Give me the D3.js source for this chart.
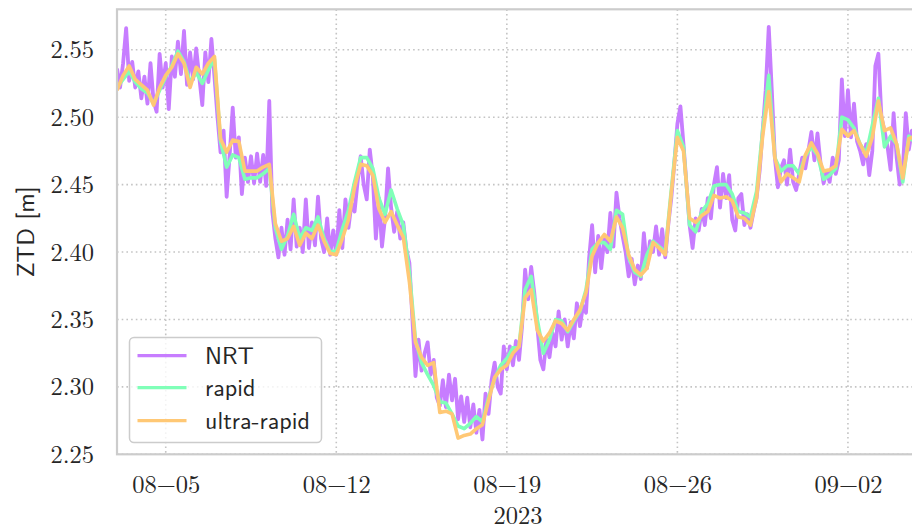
<!DOCTYPE html>
<html>
<head>
<meta charset="utf-8">
<script src="https://cdn.jsdelivr.net/npm/d3@7"></script>
<style>
  html, body { margin: 0; padding: 0; background: #ffffff; }
  svg { display: block; }
  .serif-label { font-family: "Latin Modern Roman", "LM Roman 10", "Liberation Serif", serif; }
  .sans-label { font-family: "Latin Modern Sans", "LM Sans 10", "Liberation Sans", sans-serif; }
</style>
</head>
<body>
<svg id="chart" width="912" height="528"></svg>
<script>
// Zenith total delay, three processing streams, Aug–Sep 2023 (UTC)
const seriesStart = Date.UTC(2023, 7, 3, 0, 0);
const nrtStepHours = 3;
const finalStepHours = 6;

// NRT solution, one value every 3 h
const nrtZtd = [
  2.536, 2.522, 2.540, 2.566, 2.527, 2.541, 2.522, 2.534, 2.514, 2.530,
  2.510, 2.540, 2.512, 2.504, 2.547, 2.522, 2.540, 2.506, 2.545, 2.530,
  2.556, 2.532, 2.564, 2.524, 2.548, 2.528, 2.551, 2.530, 2.509, 2.548,
  2.526, 2.558, 2.530, 2.500, 2.474, 2.490, 2.441, 2.472, 2.507, 2.470,
  2.485, 2.443, 2.470, 2.452, 2.471, 2.451, 2.473, 2.452, 2.472, 2.449,
  2.512, 2.430, 2.410, 2.396, 2.418, 2.398, 2.424, 2.402, 2.439, 2.404,
  2.418, 2.400, 2.439, 2.403, 2.422, 2.405, 2.441, 2.410, 2.400, 2.425,
  2.398, 2.416, 2.398, 2.431, 2.403, 2.439, 2.418, 2.436, 2.430, 2.452,
  2.471, 2.450, 2.439, 2.476, 2.456, 2.410, 2.440, 2.404, 2.425, 2.462,
  2.433, 2.415, 2.430, 2.410, 2.422, 2.402, 2.392, 2.350, 2.308, 2.335,
  2.312, 2.325, 2.333, 2.309, 2.320, 2.292, 2.286, 2.305, 2.285, 2.309,
  2.290, 2.306, 2.276, 2.293, 2.274, 2.292, 2.270, 2.287, 2.266, 2.283,
  2.261, 2.295, 2.280, 2.305, 2.318, 2.300, 2.295, 2.330, 2.313, 2.330,
  2.316, 2.334, 2.320, 2.345, 2.387, 2.365, 2.389, 2.370, 2.345, 2.320,
  2.313, 2.335, 2.322, 2.340, 2.330, 2.356, 2.335, 2.350, 2.330, 2.348,
  2.336, 2.362, 2.345, 2.360, 2.355, 2.395, 2.420, 2.385, 2.412, 2.388,
  2.410, 2.400, 2.429, 2.404, 2.444, 2.425, 2.412, 2.400, 2.382, 2.395,
  2.376, 2.390, 2.380, 2.414, 2.388, 2.408, 2.400, 2.419, 2.398, 2.417,
  2.396, 2.420, 2.440, 2.466, 2.495, 2.508, 2.480, 2.450, 2.420, 2.403,
  2.425, 2.416, 2.432, 2.420, 2.440, 2.425, 2.450, 2.463, 2.433, 2.458,
  2.440, 2.457, 2.424, 2.416, 2.440, 2.443, 2.420, 2.428, 2.418, 2.430,
  2.440, 2.460, 2.490, 2.520, 2.567, 2.520, 2.470, 2.448, 2.462, 2.468,
  2.450, 2.476, 2.452, 2.446, 2.458, 2.470, 2.462, 2.475, 2.489, 2.468,
  2.488, 2.466, 2.451, 2.460, 2.452, 2.470, 2.458, 2.468, 2.528, 2.486,
  2.520, 2.485, 2.510, 2.482, 2.475, 2.465, 2.480, 2.457, 2.475, 2.538,
  2.547, 2.500, 2.490, 2.478, 2.461, 2.503, 2.470, 2.450, 2.460, 2.503,
  2.476, 2.490, 2.480
];

// rapid solution, one value every 6 h
const rapidZtd = [
  2.522, 2.528, 2.534, 2.526, 2.521, 2.518, 2.510, 2.520, 2.530, 2.538,
  2.549, 2.541, 2.526, 2.533, 2.525, 2.535, 2.543, 2.482, 2.463, 2.472,
  2.470, 2.454, 2.455, 2.455, 2.458, 2.462, 2.418, 2.402, 2.412, 2.428,
  2.410, 2.418, 2.416, 2.426, 2.410, 2.400, 2.401, 2.417, 2.431, 2.452,
  2.470, 2.470, 2.462, 2.440, 2.428, 2.446, 2.432, 2.420, 2.385, 2.335,
  2.318, 2.309, 2.301, 2.289, 2.288, 2.280, 2.271, 2.269, 2.273, 2.278,
  2.274, 2.292, 2.306, 2.316, 2.321, 2.329, 2.330, 2.372, 2.382, 2.350,
  2.325, 2.335, 2.350, 2.349, 2.341, 2.349, 2.356, 2.372, 2.402, 2.407,
  2.407, 2.402, 2.431, 2.428, 2.396, 2.385, 2.382, 2.398, 2.408, 2.404,
  2.400, 2.446, 2.490, 2.478, 2.420, 2.415, 2.430, 2.436, 2.449, 2.450,
  2.450, 2.443, 2.430, 2.429, 2.426, 2.445, 2.490, 2.531, 2.470, 2.460,
  2.464, 2.464, 2.458, 2.471, 2.478, 2.472, 2.454, 2.457, 2.462, 2.500,
  2.498, 2.492, 2.480, 2.473, 2.494, 2.514, 2.478, 2.486, 2.480, 2.452,
  2.486, 2.481
];

// ultra-rapid solution, one value every 6 h
const ultraRapidZtd = [
  2.520, 2.531, 2.538, 2.528, 2.524, 2.520, 2.509, 2.522, 2.531, 2.537,
  2.547, 2.540, 2.522, 2.537, 2.532, 2.540, 2.545, 2.484, 2.474, 2.483,
  2.482, 2.460, 2.460, 2.460, 2.463, 2.465, 2.421, 2.408, 2.410, 2.419,
  2.405, 2.414, 2.410, 2.420, 2.408, 2.399, 2.398, 2.410, 2.424, 2.448,
  2.465, 2.464, 2.457, 2.432, 2.422, 2.430, 2.420, 2.411, 2.378, 2.333,
  2.322, 2.316, 2.318, 2.281, 2.282, 2.280, 2.262, 2.264, 2.265, 2.269,
  2.272, 2.290, 2.307, 2.313, 2.316, 2.325, 2.330, 2.366, 2.372, 2.342,
  2.334, 2.340, 2.349, 2.347, 2.342, 2.350, 2.357, 2.370, 2.397, 2.407,
  2.413, 2.408, 2.426, 2.418, 2.398, 2.387, 2.383, 2.388, 2.407, 2.403,
  2.398, 2.444, 2.485, 2.475, 2.425, 2.422, 2.427, 2.430, 2.442, 2.440,
  2.441, 2.438, 2.426, 2.425, 2.420, 2.440, 2.486, 2.519, 2.470, 2.452,
  2.458, 2.455, 2.452, 2.472, 2.481, 2.473, 2.460, 2.461, 2.464, 2.491,
  2.486, 2.490, 2.480, 2.471, 2.485, 2.512, 2.490, 2.492, 2.480, 2.455,
  2.484, 2.486
];

const seriesNames = ["NRT", "rapid", "ultra-rapid"];
const seriesColors = ["#c77dff", "#80ffb8", "#ffc875"];
const seriesWidths = [3.8, 3.6, 3.6];

const xTickDates = ["2023-08-05", "2023-08-12", "2023-08-19", "2023-08-26", "2023-09-02"];
const xTickLabels = ["08\u221205", "08\u221212", "08\u221219", "08\u221226", "09\u221202"];
const yTickValues = [2.25, 2.30, 2.35, 2.40, 2.45, 2.50, 2.55];
const yTickLabels = ["2.25", "2.30", "2.35", "2.40", "2.45", "2.50", "2.55"];
const xAxisTitle = "2023";
const yAxisTitle = "ZTD [m]";

const HOUR = 3600 * 1000;
const toPoints = (vals, stepH) => vals.map((v, i) => ({ t: new Date(seriesStart + i * stepH * HOUR), v }));
const series = [
  toPoints(nrtZtd, nrtStepHours),
  toPoints(rapidZtd, finalStepHours),
  toPoints(ultraRapidZtd, finalStepHours)
];

const svg = d3.select("#chart");
const m = { left: 117, top: 9.3, right: 919, bottom: 454.3 };

const x = d3.scaleUtc()
  .domain([new Date(Date.UTC(2023, 7, 3, 0)), new Date(Date.UTC(2023, 8, 4, 22))])
  .range([m.left, m.right]);
const y = d3.scaleLinear().domain([2.25, 2.58]).range([m.bottom, m.top]);

const textColor = "#262626";

// grid
const grid = svg.append("g").attr("stroke", "#c4c4c4").attr("stroke-width", 1.6)
  .attr("stroke-dasharray", "1.6,3.1");
const tickDates = xTickDates.map(s => new Date(s + "T00:00:00Z"));
grid.selectAll("line.gx").data(tickDates).join("line")
  .attr("x1", d => x(d)).attr("x2", d => x(d))
  .attr("y1", m.top).attr("y2", m.bottom);
grid.selectAll("line.gy").data(yTickValues).join("line")
  .attr("x1", m.left).attr("x2", m.right)
  .attr("y1", d => y(d)).attr("y2", d => y(d));

// series
svg.append("clipPath").attr("id", "plotClip").append("rect")
  .attr("x", m.left).attr("y", m.top).attr("width", m.right - m.left).attr("height", m.bottom - m.top);
const line = d3.line().x(d => x(d.t)).y(d => y(d.v));
const lines = svg.append("g").attr("clip-path", "url(#plotClip)");
series.forEach((pts, k) => {
  lines.append("path").datum(pts)
    .attr("d", line)
    .attr("fill", "none")
    .attr("stroke", seriesColors[k])
    .attr("stroke-width", seriesWidths[k])
    .attr("stroke-linejoin", "round");
});

// frame
svg.append("rect")
  .attr("x", m.left).attr("y", m.top)
  .attr("width", m.right - m.left).attr("height", m.bottom - m.top)
  .attr("fill", "none").attr("stroke", "#cccccc").attr("stroke-width", 2.2);

// axes (labels only, no tick marks)
const xAxis = d3.axisBottom(x).tickValues(tickDates)
  .tickFormat((d, i) => xTickLabels[i]).tickSize(0).tickPadding(0);
const gx = svg.append("g").attr("transform", `translate(0,${m.bottom})`).call(xAxis);
gx.attr("font-family", null);
gx.select(".domain").remove();
gx.selectAll("text").attr("y", 38.5).attr("dy", null)
  .attr("class", "serif-label").attr("font-size", 24.5).attr("fill", textColor);

const yAxis = d3.axisLeft(y).tickValues(yTickValues)
  .tickFormat((d, i) => yTickLabels[i]).tickSize(0).tickPadding(0);
const gy = svg.append("g").attr("transform", `translate(${m.left},0)`).call(yAxis);
gy.attr("font-family", null);
gy.select(".domain").remove();
gy.selectAll("text").attr("x", -23).attr("dy", "0.33em")
  .attr("class", "serif-label").attr("font-size", 24.5).attr("fill", textColor);

svg.append("text").text(xAxisTitle)
  .attr("class", "serif-label")
  .attr("x", (m.left + m.right) / 2).attr("y", 523.5)
  .attr("text-anchor", "middle")
  .attr("font-size", 24.5).attr("fill", textColor);

svg.append("text").text(yAxisTitle)
  .attr("class", "sans-label")
  .attr("transform", `translate(34,${(m.top + m.bottom) / 2}) rotate(-90)`)
  .attr("text-anchor", "middle")
  .attr("font-size", 24.5).attr("fill", textColor);

// legend
const legend = svg.append("g");
legend.append("rect")
  .attr("x", 129.5).attr("y", 337.5).attr("width", 192).attr("height", 105)
  .attr("rx", 4.5)
  .attr("fill", "#ffffff").attr("fill-opacity", 0.8)
  .attr("stroke", "#cccccc").attr("stroke-width", 1.5);
const rowY = [355.7, 387.7, 420.7];
seriesNames.forEach((name, k) => {
  legend.append("line")
    .attr("x1", 137.5).attr("x2", 186.5)
    .attr("y1", rowY[k]).attr("y2", rowY[k])
    .attr("stroke", seriesColors[k]).attr("stroke-width", 3.2);
  legend.append("text").text(name)
    .attr("class", "sans-label")
    .attr("x", 205).attr("y", rowY[k]).attr("dy", "0.35em")
    .attr("font-size", 24).attr("fill", textColor);
});
</script>
</body>
</html>
